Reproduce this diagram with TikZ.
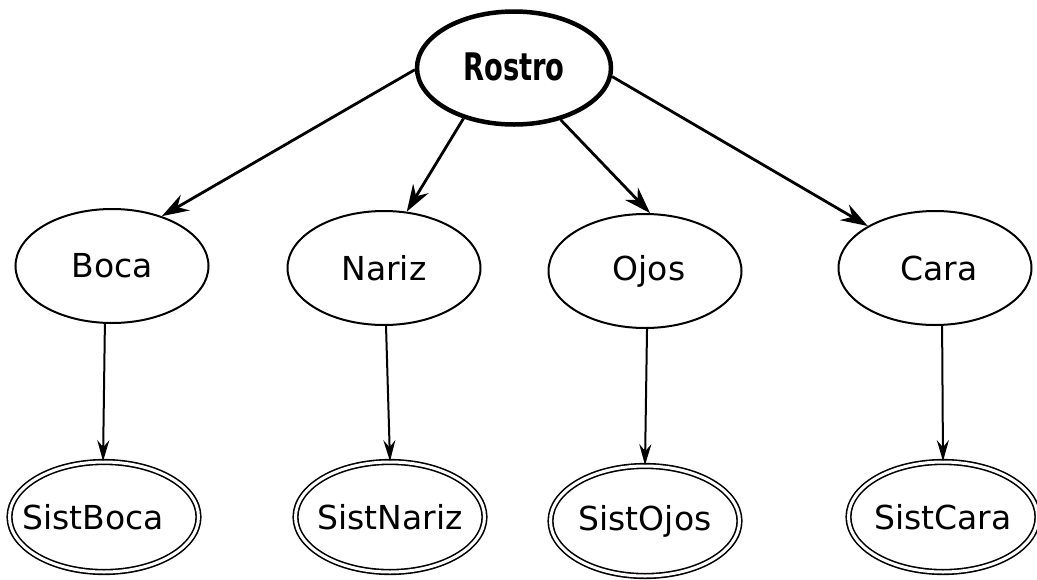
\documentclass[tikz,border=0pt]{standalone}
\usepackage{fontspec}
\setmainfont{DejaVu Sans}
\newfontfamily\rostrofont{DejaVu Sans Condensed}[BoldFont={DejaVu Sans Condensed Bold}]
\usetikzlibrary{arrows.meta, shapes}

\begin{document}
\begin{tikzpicture}[x=1pt, y=-1pt,
    concept/.style={draw, ellipse, line width=2pt, minimum width=193pt, minimum height=114pt, inner xsep=-40pt, inner ysep=-10pt, font=\fontsize{33}{38}\selectfont},
    sistema/.style={draw, ellipse, double, line width=1.6pt, double distance=3pt, minimum width=189pt, minimum height=110pt, inner xsep=-40pt, inner ysep=-10pt, font=\fontsize{33}{38}\selectfont},
    rama/.style={line width=2.8pt, arrows={-Stealth[length=27pt, width=18pt, inset=9pt]}},
    enlace/.style={line width=2pt, arrows={-Stealth[length=21pt, width=12pt, inset=7pt]}}]
    \useasboundingbox (0,0) rectangle (1037,579);
    % Nodes
    \node[draw, ellipse, line width=4.5pt, minimum width=194pt, minimum height=113pt, inner sep=0pt, font=\fontsize{38}{40}\selectfont\rostrofont\bfseries] (rostro) at (514,68) {\raisebox{3pt}{\scalebox{0.8}[1]{Rostro}}};
    \node[concept] (boca) at (112,266) {Boca};
    \node[concept] (nariz) at (384,268) {Nariz};
    \node[concept] (ojos) at (645,271) {\hspace*{8pt}Ojos};
    \node[concept] (cara) at (935,268) {\hspace*{8pt}Cara};
    \node[sistema] (sistboca) at (104,517) {SistBoca\hspace*{22pt}};
    \node[sistema] (sistnariz) at (390,517) {SistNariz};
    \node[sistema] (sistojos) at (645,521) {SistOjos};
    \node[sistema] (sistcara) at (943,517) {SistCara};

    % Connections
    \draw[rama] (rostro.181) -- (boca.45);
    \draw[rama] (rostro.225) -- (nariz.68);
    \draw[rama] (rostro.312) -- (ojos.85);
    \draw[rama] (rostro.355) -- (cara.148);
    \draw[enlace] (boca.263) -- (sistboca.91);
    \draw[enlace] (nariz.272) -- (sistnariz.90);
    \draw[enlace] (ojos.272) -- (sistojos.90);
    \draw[enlace] (cara.277) -- (sistcara.90);
\end{tikzpicture}
\end{document}
